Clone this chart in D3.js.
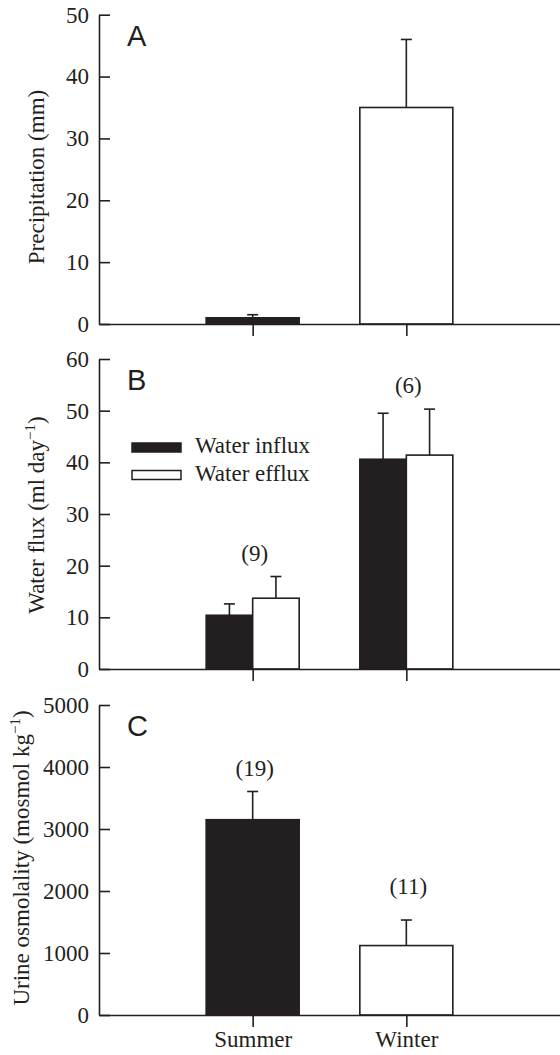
<!DOCTYPE html>
<html>
<head>
<meta charset="utf-8">
<script src="https://cdn.jsdelivr.net/npm/d3@7"></script>
<style>
  body { margin: 0; background: #fff; }
  svg { display: block; }
  .axis path, .axis line { stroke: #231f20; stroke-width: 1.6; }
  .axis text, .lbl { font-family: "Liberation Serif", "Times New Roman", Times, "DejaVu Serif", serif; font-size: 23px; fill: #231f20; }
  .panel { font-family: "Liberation Sans", Arial, sans-serif; font-size: 29px; fill: #231f20; }
</style>
</head>
<body>
<script>
// data
const seasons = ['Summer', 'Winter'];
const precipMean = [1.0, 35.0];
const precipSE = [0.5, 11.0];

const fluxSeries = ['Water influx', 'Water efflux'];
const influxMean = [10.4, 40.6];
const influxSE = [2.2, 8.9];
const effluxMean = [13.7, 41.4];
const effluxSE = [4.2, 8.9];
const fluxN = ['(9)', '(6)'];

const osmoMean = [3150, 1120];
const osmoSE = [455, 412];
const osmoN = ['(19)', '(11)'];

const ink = '#231f20';
const W = 560, H = 1055;
const left = 99, right = 560;
const serif = '"Liberation Serif", "Times New Roman", Times, serif';

const svg = d3.select('body').append('svg')
    .attr('width', W).attr('height', H);

const x = d3.scalePoint().domain(seasons).range([left, right]).padding(1);
const barW = 93;
const sub = d3.scaleBand().domain(fluxSeries).range([-barW / 2, barW / 2]);

function panel(opts) {
    const y = d3.scaleLinear().domain([0, opts.max]).range([opts.y1, opts.y0]);
    const g = svg.append('g');

    // bars
    g.selectAll('.bar')
        .data(opts.bars)
        .enter().append('rect')
        .attr('x', d => x(d.season) + d.x0)
        .attr('width', d => d.w)
        .attr('y', d => y(d.value))
        .attr('height', d => y(0) - y(d.value))
        .attr('fill', d => d.fill)
        .attr('stroke', ink)
        .attr('stroke-width', 1.6);

    // error bars (upper only)
    const eb = g.selectAll('.err').data(opts.bars).enter().append('g');
    eb.append('line')
        .attr('x1', d => x(d.season) + d.x0 + d.w / 2)
        .attr('x2', d => x(d.season) + d.x0 + d.w / 2)
        .attr('y1', d => y(d.value))
        .attr('y2', d => y(d.value + d.se))
        .attr('stroke', ink).attr('stroke-width', 1.6);
    eb.append('line')
        .attr('x1', d => x(d.season) + d.x0 + d.w / 2 - 5.5)
        .attr('x2', d => x(d.season) + d.x0 + d.w / 2 + 5.5)
        .attr('y1', d => y(d.value + d.se))
        .attr('y2', d => y(d.value + d.se))
        .attr('stroke', ink).attr('stroke-width', 1.6);

    // axes
    const ya = g.append('g').attr('class', 'axis')
        .attr('transform', `translate(${left},0)`)
        .call(d3.axisLeft(y).tickValues(opts.ticks).tickFormat(d3.format('d'))
            .tickSizeInner(-11).tickSizeOuter(0).tickPadding(10));
    ya.attr('font-family', serif).attr('font-size', 23);
    const xa = g.append('g').attr('class', 'axis')
        .attr('transform', `translate(0,${y(0)})`)
        .call(d3.axisBottom(x).tickSizeInner(12).tickSizeOuter(0)
            .tickFormat(opts.xlabels ? d => d : () => ''));
    xa.attr('font-family', serif).attr('font-size', 23);
    xa.selectAll('text').attr('y', 32).attr('dy', 0);

    // sample sizes
    if (opts.n) {
        g.selectAll('.n').data(opts.n).enter().append('text')
            .attr('class', 'lbl')
            .attr('text-anchor', 'middle')
            .attr('x', (d, i) => x(seasons[i]) + 2)
            .attr('y', (d, i) => y(opts.nAt[i]))
            .text(d => d);
    }

    // panel letter
    g.append('text').attr('class', 'panel')
        .attr('x', 127).attr('y', opts.y0 + 31)
        .text(opts.letter);

    // y title
    const t = g.append('text').attr('class', 'lbl')
        .attr('text-anchor', 'middle')
        .attr('transform', `translate(${opts.tx},${opts.ty}) rotate(-90)`);
    t.append('tspan').text(opts.title);
    if (opts.sup) {
        t.append('tspan').attr('font-size', '15px').attr('dy', '-9').text(opts.sup);
        t.append('tspan').attr('dy', '9').text(')');
    }
    return { g, y };
}

// A
panel({
    letter: 'A', y0: 14.7, y1: 324, max: 50, ticks: d3.range(0, 51, 10),
    title: 'Precipitation (mm)', tx: 43.5, ty: 177,
    bars: seasons.map((s, i) => ({
        season: s, value: precipMean[i], se: precipSE[i],
        fill: i === 0 ? ink : '#fff', x0: -barW / 2, w: barW
    }))
});

// B
const pB = panel({
    letter: 'B', y0: 359, y1: 669, max: 60, ticks: d3.range(0, 61, 10),
    title: 'Water flux (ml day', sup: '\u22121', tx: 43.5, ty: 515,
    n: fluxN, nAt: [21.0, 53.5],
    bars: seasons.flatMap((s, i) => [
        { season: s, value: influxMean[i], se: influxSE[i], fill: ink, x0: sub(fluxSeries[0]), w: sub.bandwidth() },
        { season: s, value: effluxMean[i], se: effluxSE[i], fill: '#fff', x0: sub(fluxSeries[1]), w: sub.bandwidth() }
    ])
});

// legend
const leg = pB.g.append('g').attr('transform', 'translate(132,443)');
fluxSeries.forEach((name, i) => {
    leg.append('rect')
        .attr('x', 0).attr('y', i * 27.5)
        .attr('width', 49).attr('height', 9)
        .attr('fill', i === 0 ? ink : '#fff')
        .attr('stroke', ink).attr('stroke-width', 1.5);
    leg.append('text').attr('class', 'lbl')
        .attr('x', 63).attr('y', i * 27.5 + 10)
        .text(name);
});

// C
panel({
    letter: 'C', y0: 705, y1: 1015, max: 5000, ticks: d3.range(0, 5001, 1000),
    title: 'Urine osmolality (mosmol kg', sup: '\u22121', tx: 28.5, ty: 858,
    n: osmoN, nAt: [3850, 1950], xlabels: true,
    bars: seasons.map((s, i) => ({
        season: s, value: osmoMean[i], se: osmoSE[i],
        fill: i === 0 ? ink : '#fff', x0: -barW / 2, w: barW
    }))
});
</script>
</body>
</html>
